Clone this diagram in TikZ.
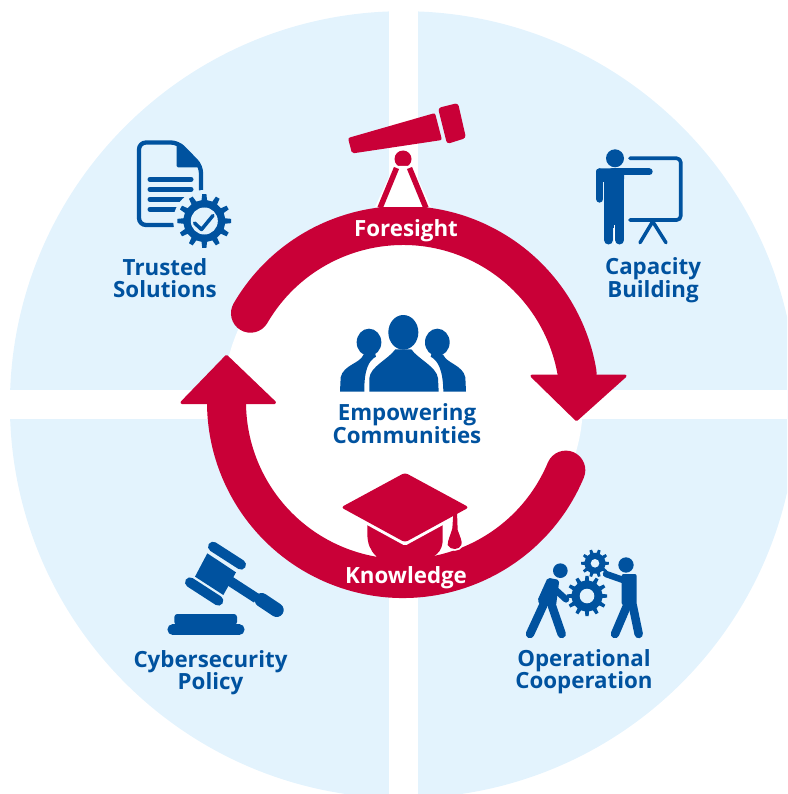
\documentclass[tikz,border=0pt]{standalone}
\usepackage{fontspec}
\setmainfont{Open Sans}[BoldFont={Open Sans Bold}]
\definecolor{ered}{HTML}{C90037}
\definecolor{eblue}{HTML}{00529F}
\definecolor{epale}{HTML}{E3F3FD}
\newcommand{\egear}[7]{% cx cy R r n rot colour
  \fill[#7] \foreach \i in {1,...,#5}{
    \ifnum\i=1 ({#1+#4*cos(#6+(\i-1)*360/#5-90/#5*1.0)},{#2+#4*sin(#6+(\i-1)*360/#5-90/#5*1.0)})\else -- ({#1+#4*cos(#6+(\i-1)*360/#5-90/#5*1.0)},{#2+#4*sin(#6+(\i-1)*360/#5-90/#5*1.0)})\fi
    -- ({#1+#3*cos(#6+(\i-1)*360/#5-90/#5*0.6)},{#2+#3*sin(#6+(\i-1)*360/#5-90/#5*0.6)})
    -- ({#1+#3*cos(#6+(\i-1)*360/#5+90/#5*0.6)},{#2+#3*sin(#6+(\i-1)*360/#5+90/#5*0.6)})
    -- ({#1+#4*cos(#6+(\i-1)*360/#5+90/#5*1.0)},{#2+#4*sin(#6+(\i-1)*360/#5+90/#5*1.0)})
  } -- cycle;}
\tikzset{
  lbl/.style={font=\bfseries\fontsize{22.3}{22.5}\selectfont,text=eblue,align=center,inner sep=0pt},
  rlbl/.style={font=\bfseries\fontsize{22.3}{22.5}\selectfont,text=white,inner sep=0pt},
  shaft/.style={draw=ered,line width=39,line cap=round},
  headr/.style={fill=ered,draw=ered,line width=3,line join=round},
  bl/.style={draw=eblue,line cap=round,line join=round},
  zoomed/.style={shift={#1},scale=1/3}
}
\begin{document}
\begin{tikzpicture}[x=1pt,y=-1pt]
\useasboundingbox (0,0) rectangle (787,794);
\begin{scope}
\clip (0,0) rectangle (787,794);
\fill[epale] (403.4,404.7) circle[radius=393.5];
\fill[white] (388.8,0) rectangle (418,794);
\fill[white] (0,390) rectangle (787,419.3);
\fill[white] (403,402) circle[radius=180];
\end{scope}
\coordinate (c) at (403,402);
% ring arrows
\draw[shaft] (c) ++(-149.8:176.5) arc[start angle=-149.8,end angle=-9.4,radius=176.5];
\draw[headr] (532,376) -- (625,376) -- (576.5,419.5) -- cycle;
\draw[shaft] (c) ++(22.7:176.5) arc[start angle=22.7,end angle=179.5,radius=176.5];
\draw[headr] (182,402.5) -- (274.5,402.5) -- (226.5,356.5) -- cycle;
% telescope
\fill[ered,rounded corners=2] (348,138) -- (435,113) -- (442,140) -- (352,153.5) -- cycle;
\fill[ered,rounded corners=3] (438,108) -- (458,103) -- (466,138) -- (447,144) -- cycle;
\fill[ered] (403,159) circle[radius=8.5];
\fill[white] (394,166) -- (412,166) -- (431,207) -- (375,207) -- cycle;
\draw[ered,line width=5.5] (396.5,168) -- (380,208);
\draw[ered,line width=5.5] (409.5,168) -- (426,208);
% cap
\begin{scope}[zoomed={(320,300)}]
\fill[ered] (142,660) -- (368,660) -- (368,725) .. controls (365,750) and (355,760) .. (340,770) -- (330,790) -- (180,790) -- (168,768) .. controls (150,750) and (142,730) .. (142,700) -- cycle;
\draw[white,line width=6,line join=round] (63,622) -- (255,727) -- (447,622);
\path[draw=white,line width=3.5] (405,650) -- (413,690) .. controls (420,710) and (428,725) .. (424,735) .. controls (418,750) and (392,752) .. (383,735) .. controls (383,720) and (392,705) .. (397,685) -- (398,650) -- cycle;
\fill[ered,rounded corners=3] (255,518) -- (447,622) -- (255,727) -- (63,622) -- cycle;
\fill[ered] (400,640) -- (411,635) -- (413,690) .. controls (420,710) and (428,725) .. (424,735) .. controls (418,750) and (392,752) .. (383,735) .. controls (383,720) and (392,705) .. (397,685) -- cycle;
\end{scope}
% people
\begin{scope}[zoomed={(320,300)}]
\fill[eblue] (250,97) ellipse[x radius=45,y radius=52];
\fill[eblue] (147,127) ellipse[x radius=37,y radius=41];
\fill[eblue] (352,127) ellipse[x radius=37,y radius=41];
\fill[eblue] (148,275) -- (148,235) .. controls (150,200) and (205,178) .. (226,148) -- (274,148) .. controls (295,178) and (350,200) .. (354,235) -- (356,275) -- cycle;
\fill[eblue] (60,275) -- (62,232) .. controls (70,195) and (120,190) .. (130,165) -- (165,160) -- (168,170) .. controls (145,182) and (132,212) .. (133,275) -- cycle;
\fill[eblue] (438,275) -- (436,232) .. controls (428,195) and (380,190) .. (370,165) -- (335,160) -- (332,170) .. controls (355,182) and (369,212) .. (370,275) -- cycle;
\end{scope}
% document icon
\draw[bl,line width=4.3,rounded corners=7] (173,225) -- (139,225) -- (139,142.5) -- (178,142.5) -- (201,166) -- (201,190);
\fill[eblue,rounded corners=1.5] (176.5,142.5) -- (176.5,167.5) -- (203,167.5) -- cycle;
\foreach \yy/\xx in {179.3/191,189.3/191,199.3/184,209.3/177}{
  \draw[bl,line width=5] (150,\yy) -- (\xx,\yy);}
\fill[epale] (204.3,221) circle[radius=31];
\egear{204.3}{221}{27}{21}{12}{0}{eblue}
\fill[epale] (204.3,221) circle[radius=13.5];
\draw[bl,line width=3.5] (194.5,223) -- (201.5,229.5) -- (213,215.5);
% trainer
\fill[eblue] (615,158.3) circle[radius=9];
\draw[bl,line width=7.3] (599.7,172) -- (599.7,199);
\fill[eblue,rounded corners=3] (596,182) -- (596,168.5) -- (624,168.5) -- (624,182) -- cycle;
\draw[bl,line width=7] (612,172) -- (649.2,172);
\fill[eblue] (604.3,175) rectangle (624,228);
\fill[white] (614,225) rectangle (614.8,244);
\draw[bl,line width=9] (608.5,225) -- (608.5,240);
\draw[bl,line width=9] (619.7,225) -- (619.7,240);
\draw[bl,line width=3.7,rounded corners=4] (630,158.3) -- (680.7,158.3) -- (680.7,220) -- (630,220);
\draw[bl,line width=3.5] (640,242.7) -- (652.7,221.5) -- (666,242.7);
% gavel
\begin{scope}[zoomed={(120,530)}]
\fill[eblue] (262,70) -- (348,127) -- (310,195) -- (225,140) -- cycle;
\draw[bl,line width=10] (279,50) -- (363,104);
\draw[bl,line width=10] (210,157) -- (295,212);
\draw[eblue,line width=10] (325,150) -- (410,205);
\draw[bl,line width=14] (425,210) -- (470,240);
\fill[eblue,rounded corners=3] (163,285) -- (163,252) -- (351,252) -- (351,285) -- cycle;
\draw[bl,line width=10.5] (158,299) -- (358,299);
\end{scope}
% operational cooperation
\begin{scope}[zoomed={(500,530)}]
\fill[eblue] (181,122) circle[radius=22];
\fill[eblue] (378,105) circle[radius=23];
\fill[eblue,rounded corners=2] (143,143) -- (178,150) -- (168,228) -- (124,228) -- (112,212) -- cycle;
\draw[bl,line width=6.5] (165,178) -- (198,208);
\draw[bl,line width=8.5] (130,225) -- (90,312);
\draw[bl,line width=8.5] (155,225) -- (185,312);
\fill[eblue,rounded corners=2] (365,132) -- (410,132) -- (410,225) -- (365,225) -- cycle;
\draw[bl,line width=6.5] (375,152) -- (318,132);
\draw[bl,line width=8.5] (382,225) -- (345,312);
\draw[bl,line width=8.5] (398,225) -- (416,312);
\end{scope}
\egear{587}{596}{20.3}{15.5}{12}{0}{eblue}
\fill[epale] (587,596) circle[radius=7.3];
\egear{595}{563.3}{14}{10.5}{10}{0}{eblue}
\fill[epale] (595,563.3) circle[radius=4.3];
% labels
\node[rlbl] (foresight) at (406,230.5) {Foresight};
\node[rlbl] (knowledge) at (406,577.5) {Knowledge};
\node[lbl] (trusted) at (165,278) {Trusted\\Solutions};
\node[lbl] (capacity) at (653,280) {Capacity\\Building};
\node[lbl] (empower) at (407,423.5) {Empowering\\Communities};
\node[lbl] (policy) at (210.5,672.5) {Cybersecurity\\Policy};
\node[lbl] (oper) at (584,671.5) {Operational\\Cooperation};
\end{tikzpicture}
\end{document}
